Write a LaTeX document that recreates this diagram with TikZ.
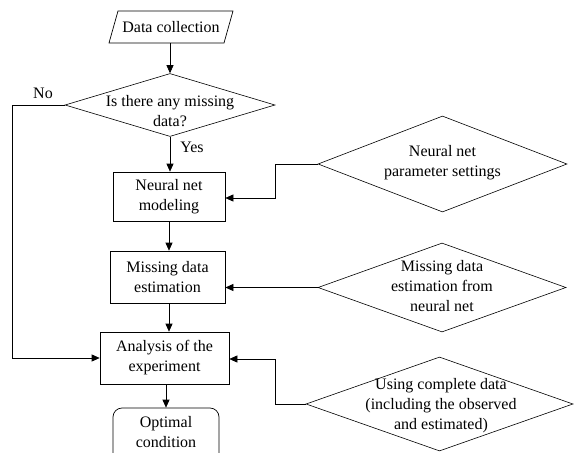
\documentclass[tikz,border=0pt]{standalone}
\usepackage{fontspec}
\setmainfont{Liberation Serif}
\usetikzlibrary{shapes.geometric,arrows.meta}
\begin{document}
\begin{tikzpicture}[x=1pt,y=-1pt,
  every node/.style={font=\fontsize{16}{20}\selectfont, align=center},
  box/.style={draw, line width=0.7pt, inner sep=0pt},
  dia/.style={draw, diamond, line width=0.6pt, inner sep=0pt},
  txt/.style={inner sep=0pt},
  arr/.style={line width=0.7pt, -{Triangle[length=8pt,width=7pt]}},
  ln/.style={line width=0.7pt}]
\clip (0,0) rectangle (574,453);
% Data collection parallelogram
\draw[line width=0.7pt] (109,43) -- (118,11) -- (233,11) -- (224,43) -- cycle;
\node[txt] (dc) at (171,27) {Data collection};
\coordinate (dcb) at (170,43);
% decision
\node[dia, minimum width=210pt, minimum height=63pt] (dec) at (170,105) {};
\node[txt] (dect) at (170,111) {Is there any missing\\data?};
% boxes
\node[box, minimum width=112pt, minimum height=49pt] (nn) at (169,196.5) {Neural net\\modeling};
\node[box, minimum width=115pt, minimum height=52pt] (md) at (167.5,277) {Missing data\\estimation};
\node[box, minimum width=129pt, minimum height=52pt] (an) at (164.5,358) {Analysis of the\\experiment};
\node[box, rounded corners=9pt, minimum width=106pt, minimum height=54pt, text depth=0pt] (opt) at (166,435) {};
\node[txt] (optt) at (166,432) {Optimal\\condition};
% right diamonds
\node[dia, minimum width=249pt, minimum height=96pt] (p1) at (442.5,164) {};
\node[txt] (p1t) at (442.5,163) {Neural net\\parameter settings};
\node[dia, minimum width=248pt, minimum height=89pt] (p2) at (442,287.5) {};
\node[txt] (p2t) at (442,286) {Missing data\\estimation from\\neural net};
\node[dia, minimum width=267pt, minimum height=94pt] (p3) at (439.5,404) {};
\node[txt] (p3t) at (441,406) {Using complete data\\(including the observed\\and estimated)};
% labels
\node[txt] (no) at (43,93) {No};
\node[txt] (yes) at (192,147) {Yes};
% connectors
\draw[arr] (dcb) -- (dec.north);
\draw[arr] (dec.south) -- (dec.south |- nn.north);
\draw[arr] (nn.south -| 169,0) -- (169,0 |- md.north);
\draw[arr] (md.south -| 169,0) -- (169,0 |- an.north);
\draw[arr] (an.south -| 166,0) -- (opt.north);
\draw[arr] (dec.west) -- (12,105) |- (an.west);
\draw[arr] (p1.west) -- (275,164) |- ([yshift=-1.5pt]nn.east);
\draw[arr] (p2.west) -- (p2.west -| md.east);
\draw[arr] (p3.west) -- (275,404) |- ([yshift=-1pt]an.east);
\end{tikzpicture}
\end{document}
